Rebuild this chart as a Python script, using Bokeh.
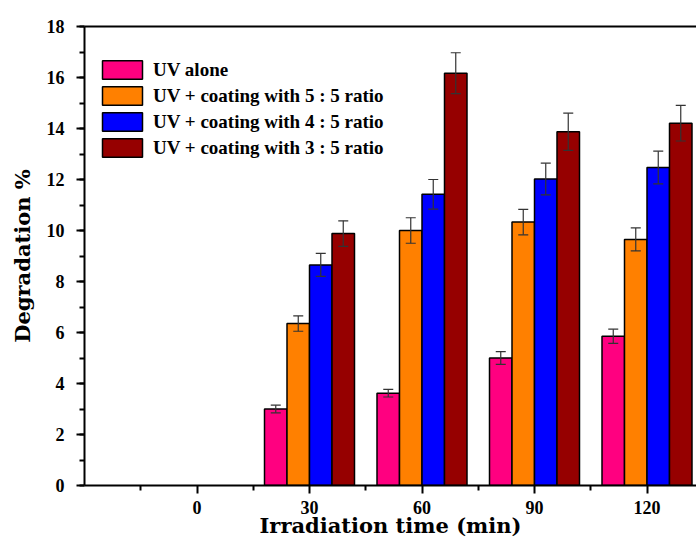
from bokeh.plotting import figure
from bokeh.models import (ColumnDataSource, Whisker, TeeHead, FixedTicker, SingleIntervalTicker,
                          LinearAxis, Legend, LegendItem, Range1d)
from bokeh.embed import file_html
from bokeh.resources import INLINE

times = [30, 60, 90, 120]
tick_labels = ["0", "30", "60", "90", "120"]
series_names = ["UV alone", "UV + coating with 5 : 5 ratio",
                "UV + coating with 4 : 5 ratio", "UV + coating with 3 : 5 ratio"]
uv_alone = [3.0, 3.62, 5.0, 5.85]
uv_55 = [6.35, 10.0, 10.33, 9.65]
uv_45 = [8.65, 11.42, 12.02, 12.47]
uv_35 = [9.88, 16.17, 13.87, 14.21]
err_alone = [0.15, 0.15, 0.25, 0.28]
err_55 = [0.3, 0.5, 0.5, 0.45]
err_45 = [0.45, 0.58, 0.62, 0.64]
err_35 = [0.5, 0.8, 0.73, 0.7]

colors = ["#FF0080", "#FF8000", "#0000FF", "#960000"]
offsets = [-9, -3, 3, 9]
BAR_W = 6

FONT = "Liberation Serif"
LFONT = "DejaVu Serif"

p = figure(width=696, height=540, output_backend="svg", toolbar_location=None,
           x_range=Range1d(-30, 133.2), y_range=Range1d(0, 18),
           min_border_left=84, min_border_right=0, min_border_top=26, min_border_bottom=55)
p.outline_line_color = None
p.xgrid.grid_line_color = None
p.ygrid.grid_line_color = None
p.background_fill_color = "white"

vals = [uv_alone, uv_55, uv_45, uv_35]
errs = [err_alone, err_55, err_45, err_35]
items = []
for name, v, e, c, off in zip(series_names, vals, errs, colors, offsets):
    xs = [t + off for t in times]
    src = ColumnDataSource(dict(x=xs, top=v, lo=[a - b for a, b in zip(v, e)],
                                hi=[a + b for a, b in zip(v, e)]))
    r = p.vbar(x="x", top="top", width=BAR_W, bottom=0, source=src,
               fill_color=c, line_color="black", line_width=1.5)
    w = Whisker(base="x", lower="lo", upper="hi", source=src, level="overlay",
                line_color="#333333", line_width=1.2,
                upper_head=TeeHead(size=10, line_color="#333333", line_width=1.2),
                lower_head=TeeHead(size=10, line_color="#333333", line_width=1.2))
    p.add_layout(w)
    items.append(LegendItem(label=name, renderers=[r]))

legend = Legend(items=items, location=(13, 326), padding=0, margin=0, spacing=3,
                glyph_width=50, glyph_height=23, label_standoff=6,
                label_text_font=FONT, label_text_font_style="bold",
                label_text_font_size="19px", label_text_color="black",
                border_line_color=None, background_fill_alpha=0)
p.add_layout(legend, "center")

xa = p.xaxis[0]
xa.ticker = FixedTicker(ticks=[0, 30, 60, 90, 120], minor_ticks=[-15, 15, 45, 75, 105])
xa.major_label_overrides = {i * 30: lab for i, lab in enumerate(tick_labels)}
xa.axis_label = "Irradiation time (min)"

ya = p.yaxis[0]
ya.ticker = SingleIntervalTicker(interval=2, num_minor_ticks=2)
ya.axis_label = "Degradation %"

for ax in (xa, ya):
    ax.axis_line_width = 2
    ax.axis_line_color = "black"
    ax.major_tick_line_width = 2
    ax.minor_tick_line_width = 2
    ax.major_tick_in = 0
    ax.major_tick_out = 8
    ax.minor_tick_in = 0
    ax.minor_tick_out = 5
    ax.major_label_text_font = FONT
    ax.major_label_text_font_style = "bold"
    ax.major_label_text_font_size = "18px"
    ax.major_label_text_color = "black"
    ax.axis_label_text_font = LFONT
    ax.axis_label_text_font_style = "bold"
    ax.axis_label_text_font_size = "21px"
    ax.axis_label_text_color = "black"

xa.major_label_standoff = 7
xa.axis_label_standoff = -4
ya.major_label_standoff = 12
ya.axis_label_standoff = 9

top = LinearAxis(ticker=FixedTicker(ticks=[]), major_tick_line_color=None,
                 minor_tick_line_color=None, axis_line_width=2, axis_line_color="black")
p.add_layout(top, "above")

open("out.html", "w").write(file_html(p, INLINE))
